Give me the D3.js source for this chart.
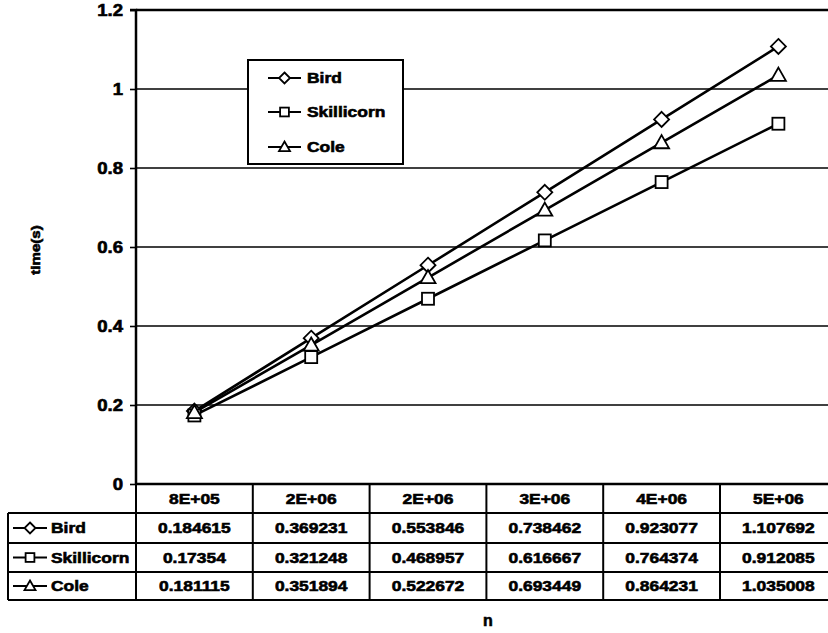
<!DOCTYPE html>
<html>
<head>
<meta charset="utf-8">
<script src="https://cdn.jsdelivr.net/npm/d3@7"></script>
<style>
  html, body { margin: 0; padding: 0; background: #fff; }
  svg { display: block; font-family: "Liberation Sans", Arial, sans-serif; font-weight: bold; }
  svg text { stroke: #000; stroke-width: 0.6px; fill: #000; }
</style>
</head>
<body>
<svg id="chart" width="828" height="633"></svg>
<script>
// Category labels along the n axis (shown in the table header row)
const nLabels = ["8E+05", "2E+06", "2E+06", "3E+06", "4E+06", "5E+06"];
// Running times in seconds per algorithm
const seriesNames = ["Bird", "Skillicorn", "Cole"];
const bird = [0.184615, 0.369231, 0.553846, 0.738462, 0.923077, 1.107692];
const skillicorn = [0.17354, 0.321248, 0.468957, 0.616667, 0.764374, 0.912085];
const cole = [0.181115, 0.351894, 0.522672, 0.693449, 0.864231, 1.035008];
// Displayed table text for each value
const birdText = ["0.184615", "0.369231", "0.553846", "0.738462", "0.923077", "1.107692"];
const skillicornText = ["0.17354", "0.321248", "0.468957", "0.616667", "0.764374", "0.912085"];
const coleText = ["0.181115", "0.351894", "0.522672", "0.693449", "0.864231", "1.035008"];
const yTicks = [0, 0.2, 0.4, 0.6, 0.8, 1, 1.2];

const series = [
  { name: seriesNames[0], values: bird, text: birdText, symbol: "diamond" },
  { name: seriesNames[1], values: skillicorn, text: skillicornText, symbol: "square" },
  { name: seriesNames[2], values: cole, text: coleText, symbol: "triangle" }
];

const svg = d3.select("#chart");
const plot = { left: 136, top: 10, bottom: 484, bandWidth: 116.8 };
plot.right = plot.left + plot.bandWidth * nLabels.length;

const x = d3.scaleBand()
  .domain(d3.range(nLabels.length))
  .range([plot.left, plot.right])
  .paddingInner(0).paddingOuter(0);
const y = d3.scaleLinear().domain([0, 1.2]).range([plot.bottom, plot.top]);

// Horizontal gridlines
svg.append("g")
  .selectAll("line")
  .data(yTicks.filter(d => d > 0 && d < 1.2))
  .join("line")
  .attr("x1", plot.left).attr("x2", plot.right)
  .attr("y1", d => y(d)).attr("y2", d => y(d))
  .attr("stroke", "#000").attr("stroke-width", 1.6);

// Top border
svg.append("line")
  .attr("x1", plot.left).attr("x2", plot.right)
  .attr("y1", y(1.2)).attr("y2", y(1.2))
  .attr("stroke", "#000").attr("stroke-width", 2.5);

// Y axis
const yAxis = d3.axisLeft(y).tickValues(yTicks).tickSize(6).tickPadding(7)
  .tickFormat(d => d3.format("~g")(d));
const yg = svg.append("g").attr("transform", `translate(${plot.left},0)`).call(yAxis);
yg.select(".domain").attr("stroke-width", 2.5).attr("d", `M-6,${y(1.2)}H0V${plot.bottom}`);
yg.selectAll(".tick line").attr("stroke-width", 1.6);
yg.selectAll(".tick text")
  .attr("font-size", 16).attr("font-weight", "bold")
  .attr("font-family", "Liberation Sans, Arial, sans-serif")
  .classed("wide", true);

// Axis titles
svg.append("text")
  .attr("transform", `translate(40,250) rotate(-90)`)
  .attr("text-anchor", "middle")
  .attr("font-size", 13)
  .classed("wide", true)
  .text("time(s)");
svg.append("text")
  .attr("x", 488).attr("y", 626)
  .attr("text-anchor", "middle")
  .attr("font-size", 16)
  .text("n");

// Marker shapes
function marker(sel, kind, size) {
  const s = size / 2;
  if (kind === "diamond") {
    sel.append("path").attr("d", `M0,${-s}L${s},0L0,${s}L${-s},0Z`);
  } else if (kind === "square") {
    sel.append("rect").attr("x", -s * 0.8).attr("y", -s * 0.8)
      .attr("width", s * 1.6).attr("height", s * 1.6);
  } else {
    sel.append("path").attr("d", `M0,${-s}L${s},${s * 0.75}L${-s},${s * 0.75}Z`);
  }
  sel.selectAll("path,rect").attr("fill", "#fff").attr("stroke", "#000").attr("stroke-width", 1.8);
}

const line = d3.line()
  .x((d, i) => x(i) + x.bandwidth() / 2)
  .y(d => y(d));

// Series lines
const sg = svg.append("g");
series.forEach(s => {
  sg.append("path")
    .attr("d", line(s.values))
    .attr("fill", "none").attr("stroke", "#000").attr("stroke-width", 2.6);
});
// Series markers
series.forEach(s => {
  s.values.forEach((v, i) => {
    const g = sg.append("g").attr("transform", `translate(${x(i) + x.bandwidth() / 2},${y(v)})`);
    marker(g, s.symbol, 15);
  });
});

// Legend box
const lg = svg.append("g");
lg.append("rect")
  .attr("x", 248).attr("y", 60).attr("width", 155).attr("height", 104)
  .attr("fill", "#fff").attr("stroke", "#000").attr("stroke-width", 2);
const legendRows = [78, 112, 147];
series.forEach((s, i) => {
  const yy = legendRows[i];
  lg.append("line").attr("x1", 268).attr("x2", 301).attr("y1", yy).attr("y2", yy)
    .attr("stroke", "#000").attr("stroke-width", 2);
  const m = lg.append("g").attr("transform", `translate(284.5,${yy})`);
  marker(m, s.symbol, 11);
  lg.append("text").attr("x", 307).attr("y", yy).attr("dy", "0.36em")
    .attr("font-size", 15).classed("wide", true).text(s.name);
});

// Data table below the plot
const tbl = svg.append("g");
const rowY = [484, 513, 543, 572, 600];
const tableLeft = 8;
// Header cells
nLabels.forEach((lab, i) => {
  tbl.append("text")
    .attr("x", x(i) + x.bandwidth() / 2).attr("y", (rowY[0] + rowY[1]) / 2)
    .attr("dy", "0.36em").attr("text-anchor", "middle")
    .attr("font-size", 15).classed("wide", true)
    .text(lab);
});
// Value rows
series.forEach((s, r) => {
  const cy = (rowY[r + 1] + rowY[r + 2]) / 2;
  s.text.forEach((t, i) => {
    tbl.append("text")
      .attr("x", x(i) + x.bandwidth() / 2).attr("y", cy)
      .attr("dy", "0.36em").attr("text-anchor", "middle")
      .attr("font-size", 15).classed("wide", true)
      .text(t);
  });
  tbl.append("line").attr("x1", 13).attr("x2", 47).attr("y1", cy).attr("y2", cy)
    .attr("stroke", "#000").attr("stroke-width", 2);
  const m = tbl.append("g").attr("transform", `translate(30,${cy})`);
  marker(m, s.symbol, 11);
  tbl.append("text").attr("x", 51).attr("y", cy).attr("dy", "0.36em")
    .attr("font-size", 15).classed("wide", true).text(s.name);
});
// Table grid lines
const gridStroke = 2;
tbl.append("line").attr("x1", plot.left).attr("x2", plot.right)
  .attr("y1", rowY[0]).attr("y2", rowY[0]).attr("stroke", "#000").attr("stroke-width", 2.5);
rowY.slice(1).forEach(yy => {
  tbl.append("line").attr("x1", tableLeft).attr("x2", plot.right)
    .attr("y1", yy).attr("y2", yy).attr("stroke", "#000").attr("stroke-width", gridStroke);
});
tbl.append("line").attr("x1", tableLeft).attr("x2", tableLeft)
  .attr("y1", rowY[1]).attr("y2", rowY[4]).attr("stroke", "#000").attr("stroke-width", gridStroke);
d3.range(nLabels.length + 1).forEach(i => {
  const xx = plot.left + i * x.bandwidth();
  tbl.append("line").attr("x1", xx).attr("x2", xx)
    .attr("y1", rowY[0]).attr("y2", rowY[4]).attr("stroke", "#000").attr("stroke-width", gridStroke);
});

// The typeface is set slightly wide: stretch each label horizontally
svg.selectAll("text.wide").each(function () {
  const w = this.getComputedTextLength();
  d3.select(this).attr("textLength", w * 1.16).attr("lengthAdjust", "spacingAndGlyphs");
});
</script>
</body>
</html>
